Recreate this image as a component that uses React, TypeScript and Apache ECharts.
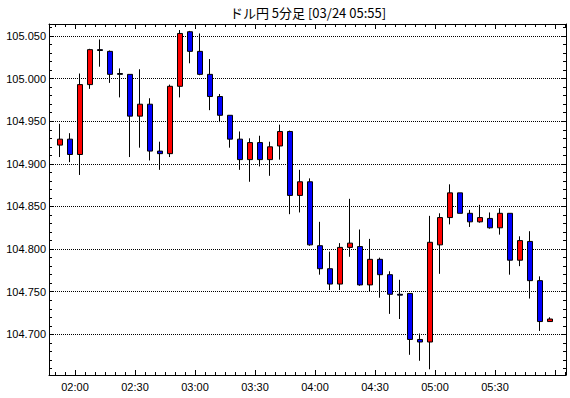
import React, { useEffect, useRef } from 'react';
import * as echarts from 'echarts';

const times = [
  '01:50', '01:55', '02:00', '02:05', '02:10', '02:15', '02:20', '02:25', '02:30', '02:35',
  '02:40', '02:45', '02:50', '02:55', '03:00', '03:05', '03:10', '03:15', '03:20', '03:25',
  '03:30', '03:35', '03:40', '03:45', '03:50', '03:55', '04:00', '04:05', '04:10', '04:15',
  '04:20', '04:25', '04:30', '04:35', '04:40', '04:45', '04:50', '04:55', '05:00', '05:05',
  '05:10', '05:15', '05:20', '05:25', '05:30', '05:35', '05:40', '05:45', '05:50', '05:55',
];

const opens = [
  104.922, 104.929, 104.911, 104.993, 105.034, 105.032, 105.006, 105.005, 104.956, 104.970,
  104.915, 104.912, 104.991, 105.055, 105.032, 105.005, 104.979, 104.957, 104.929, 104.905,
  104.925, 104.905, 104.921, 104.938, 104.863, 104.879, 104.804, 104.777, 104.759, 104.802,
  104.803, 104.758, 104.788, 104.770, 104.747, 104.748, 104.694, 104.691, 104.805, 104.837,
  104.866, 104.842, 104.832, 104.836, 104.825, 104.842, 104.787, 104.809, 104.763, 104.715,
];

const closes = [
  104.929, 104.911, 104.993, 105.034, 105.033, 105.005, 105.005, 104.956, 104.970, 104.915,
  104.912, 104.991, 105.053, 105.032, 105.005, 104.979, 104.957, 104.929, 104.905, 104.925,
  104.905, 104.920, 104.938, 104.863, 104.879, 104.805, 104.777, 104.759, 104.802, 104.807,
  104.758, 104.788, 104.770, 104.747, 104.746, 104.694, 104.691, 104.808, 104.837, 104.866,
  104.842, 104.832, 104.837, 104.825, 104.842, 104.787, 104.810, 104.763, 104.715, 104.718,
];

const lows = [
  104.908, 104.902, 104.887, 104.988, 105.014, 104.995, 104.978, 104.908, 104.919, 104.904,
  104.893, 104.908, 104.978, 105.018, 105.004, 104.963, 104.949, 104.919, 104.893, 104.879,
  104.897, 104.886, 104.905, 104.841, 104.843, 104.804, 104.770, 104.752, 104.752, 104.791,
  104.757, 104.750, 104.743, 104.724, 104.718, 104.676, 104.669, 104.659, 104.771, 104.829,
  104.842, 104.826, 104.831, 104.824, 104.817, 104.770, 104.780, 104.742, 104.704, 104.715,
];

const highs = [
  104.947, 104.936, 105.006, 105.035, 105.046, 105.033, 105.012, 105.005, 105.011, 104.977,
  104.926, 104.993, 105.057, 105.056, 105.053, 105.023, 104.982, 104.957, 104.938, 104.930,
  104.933, 104.926, 104.946, 104.939, 104.893, 104.883, 104.832, 104.797, 104.807, 104.859,
  104.823, 104.812, 104.790, 104.774, 104.764, 104.748, 104.701, 104.839, 104.842, 104.876,
  104.866, 104.846, 104.852, 104.843, 104.848, 104.842, 104.815, 104.821, 104.768, 104.720,
];

const titleText = 'ドル円 5分足 [03/24 05:55]';

const X_MIN = 107; // 01:47 in minutes
const X_MAX = 365.5; // 06:05.5
const Y_MIN = 104.6523;
const Y_MAX = 105.0641;

function toMin(t: string): number {
  const [h, m] = t.split(':').map(Number);
  return h * 60 + m;
}

function fmtTime(v: number): string {
  if (Math.abs(v % 30) > 1e-6 || v >= 360) return '';
  const h = Math.floor(v / 60);
  const m = Math.round(v - h * 60);
  return String(h).padStart(2, '0') + ':' + String(m).padStart(2, '0');
}

function fmtPrice(v: number): string {
  const k = v * 20;
  if (Math.abs(k - Math.round(k)) > 1e-6) return '';
  return v.toFixed(3);
}

export default function App() {
  const ref = useRef<HTMLDivElement>(null);
  useEffect(() => {
    const chart = echarts.init(ref.current!, null, { renderer: 'svg' });
    const data = times.map((t, i) => [toMin(t) + 2.5, opens[i], closes[i], lows[i], highs[i]]);
    const font = 'Liberation Sans';
    const black = '#000';
    const xBase = (pos: string, showLabel: boolean) => ({
      type: 'value',
      position: pos,
      min: X_MIN,
      max: X_MAX,
      minInterval: 30,
      maxInterval: 30,
      splitLine: { show: false },
      axisLine: { show: true, lineStyle: { color: black, width: 1 } },
      axisTick: { show: true, inside: true, length: 5, lineStyle: { color: black } },
      minorTick: { show: true, splitNumber: 6, length: 3, lineStyle: { color: black } },
      axisLabel: {
        show: showLabel,
        formatter: fmtTime,
        color: black,
        fontFamily: font,
        fontSize: 11,
        margin: 6,
        showMinLabel: false,
        showMaxLabel: false,
      },
    });
    const yBase = (pos: string, showLabel: boolean) => ({
      type: 'value',
      position: pos,
      min: Y_MIN,
      max: Y_MAX,
      minInterval: 0.05,
      maxInterval: 0.05,
      splitLine: { show: showLabel, lineStyle: { color: black, type: 'dotted', width: 1 } },
      axisLine: { show: true, lineStyle: { color: black, width: 1 } },
      axisTick: { show: true, inside: true, length: 4, lineStyle: { color: black } },
      minorTick: { show: true, splitNumber: 5, length: 3, lineStyle: { color: black } },
      axisLabel: {
        show: showLabel,
        formatter: fmtPrice,
        color: black,
        fontFamily: font,
        fontSize: 11,
        margin: 3,
        showMinLabel: false,
        showMaxLabel: false,
      },
    });
    chart.setOption({
      animation: false,
      backgroundColor: '#fff',
      grid: { left: 49, top: 24, width: 517, height: 351 },
      xAxis: [xBase('bottom', true), xBase('top', false)],
      yAxis: [yBase('left', true), yBase('right', false)],
      graphic: [
        {
          type: 'text',
          x: 308,
          y: 12,
          style: {
            text: titleText,
            fill: black,
            font: '13px "Noto Sans CJK JP"',
            textAlign: 'center',
            textVerticalAlign: 'middle',
          },
        },
      ],
      series: [
        {
          type: 'candlestick',
          xAxisIndex: 0,
          yAxisIndex: 0,
          data,
          barWidth: 5,
          itemStyle: {
            color: '#ff0000',
            color0: '#0000ff',
            borderColor: black,
            borderColor0: black,
            borderColorDoji: black,
            borderWidth: 1,
          },
        },
      ],
    });
    return () => chart.dispose();
  }, []);
  return (
    <div
      ref={ref}
      style={{ position: 'fixed', left: 0, top: 0, width: 570, height: 398, background: '#fff' }}
    />
  );
}
